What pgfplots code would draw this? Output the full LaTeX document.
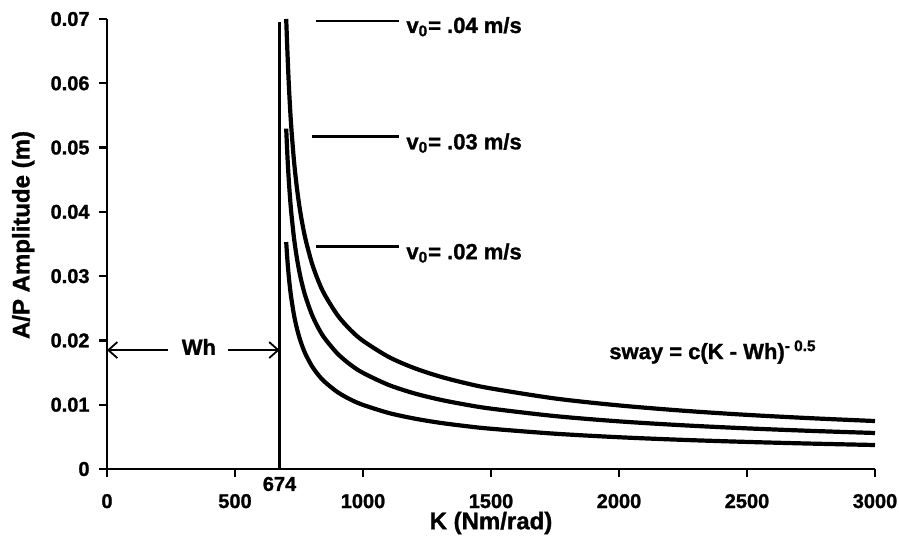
\documentclass[border=0pt]{standalone}
\usepackage{pgfplots}
\pgfplotsset{compat=1.18}
\usepackage{fontspec}
\setmainfont{Liberation Sans}[BoldFeatures={FakeBold=1.2}]
\usetikzlibrary{arrows.meta}

% sway = c(K - Wh)^-0.5, Wh = 674 Nm/rad
\pgfplotstableread{
K     v04     v03     v02
700   0.07000 0.05295 0.03530
705   0.06466 0.04849 0.03233
710   0.06000 0.04500 0.03000
715   0.05622 0.04217 0.02811
720   0.05308 0.03981 0.02654
730   0.04811 0.03608 0.02405
740   0.04431 0.03324 0.02216
750   0.04130 0.03097 0.02065
760   0.03882 0.02911 0.01941
775   0.03582 0.02687 0.01791
800   0.03207 0.02405 0.01604
825   0.02930 0.02197 0.01465
850   0.02714 0.02035 0.01357
900   0.02395 0.01796 0.01197
950   0.02167 0.01625 0.01083
1000  0.01994 0.01495 0.00997
1100  0.01744 0.01308 0.00872
1200  0.01570 0.01177 0.00785
1300  0.01439 0.01079 0.00719
1400  0.01336 0.01002 0.00668
1500  0.01253 0.00939 0.00626
1750  0.01097 0.00823 0.00549
2000  0.00989 0.00741 0.00494
2250  0.00907 0.00680 0.00453
2500  0.00842 0.00632 0.00421
2750  0.00790 0.00593 0.00395
3000  0.00746 0.00560 0.00373
}\sway

\begin{document}
\begin{tikzpicture}
\begin{axis}[name=ax, scale only axis, width=384pt, height=225pt,
  xmin=0, xmax=3000, ymin=0, ymax=0.07,
  scaled y ticks=false, scaled x ticks=false,
  axis lines=left, axis line style={-, line width=1.3pt},
  tick align=outside, major tick length=4pt,
  tick style={black, line width=1.2pt},
  xtick={0,500,1000,1500,2000,2500,3000},
  xticklabels={0,500,1000,1500,2000,2500,3000},
  ytick={0,0.01,0.02,0.03,0.04,0.05,0.06,0.07},
  yticklabels={0,0.01,0.02,0.03,0.04,0.05,0.06,0.07},
  ticklabel style={font=\fontsize{10}{12}\selectfont\bfseries},
  xticklabel style={yshift=-5pt},
  yticklabel style={xshift=-1.2pt},
  xlabel={K (Nm/rad)}, ylabel={A/P Amplitude (m)},
  label style={font=\fontsize{12}{14}\selectfont\bfseries},
  xlabel style={at={(axis description cs:0.5,0)}, anchor=center, yshift=-27pt},
  ylabel style={at={(axis description cs:-0.109,0.52)}, anchor=center},
  clip=false,
]
\addplot[black, line width=2.1pt, smooth] table[x=K, y=v04] {\sway};
\addplot[black, line width=2.1pt, smooth] table[x=K, y=v03] {\sway};
\addplot[black, line width=2.1pt, smooth] table[x=K, y=v02] {\sway};
\addplot[black, line width=1.1pt, sharp plot] coordinates {(674,0) (674,0.0695)};

\draw[line width=1.3pt] (axis cs:816,0.0697) -- (axis cs:1141,0.0697);
\draw[line width=1.3pt] (axis cs:801,0.0517) -- (axis cs:1141,0.0517);
\draw[line width=1.3pt] (axis cs:816,0.0346) -- (axis cs:1141,0.0346);
\begin{scope}[every node/.style={anchor=west, inner sep=0pt, font=\fontsize{11}{13}\selectfont\bfseries}]
\node at (axis cs:1168,0.0688) {v\textsubscript{0}= .04 m/s};
\node at (axis cs:1168,0.0507) {v\textsubscript{0}= .03 m/s};
\node at (axis cs:1168,0.0336) {v\textsubscript{0}= .02 m/s};
\end{scope}

\draw[line width=0.9pt, -{Straight Barb[length=4.5pt, width=8pt]}] (axis cs:238,0.0185) -- (axis cs:0,0.0185);
\draw[line width=0.9pt, -{Straight Barb[length=4.5pt, width=8pt]}] (axis cs:473,0.0185) -- (axis cs:674,0.0185);
\node[font=\fontsize{11}{13}\selectfont\bfseries] at (axis cs:359,0.0190) {Wh};
\node[font=\fontsize{11}{13}\selectfont\bfseries] at (axis cs:2367,0.0182) {sway = c(K - Wh)\textsuperscript{- 0.5}};
\node[font=\fontsize{10}{12}\selectfont\bfseries, yshift=-7.5pt] at (axis cs:674,0) {674};
\end{axis}
\pgfresetboundingbox
\path ([shift={(-53.5pt,-35pt)}]ax.south west) rectangle ([shift={(12pt,9.5pt)}]ax.north east);
\end{tikzpicture}
\end{document}
